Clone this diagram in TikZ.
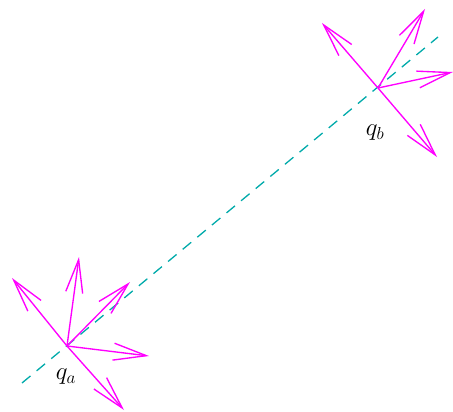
\documentclass[tikz,border=0pt]{standalone}
\usetikzlibrary{arrows.meta}
\definecolor{vec}{RGB}{255,0,255}
\definecolor{dash}{RGB}{0,170,170}
\begin{document}
\begin{tikzpicture}[x=1pt,y=-1pt,
  vecarrow/.style={draw=vec,line width=1.35pt,-{Straight Barb[length=33pt,width=17pt,line width=1.35pt]}},
  dashline/.style={draw=dash,line width=1.3pt,dash pattern=on 11pt off 8pt},
  lbl/.style={font=\fontsize{24}{28}\selectfont,inner sep=0pt}]
\useasboundingbox (0,0) rectangle (453,412);
\coordinate (qa) at (67,346);
\coordinate (qb) at (378,88);
\coordinate (d1) at (22,383);
\coordinate (d2) at (438,37);
\draw[dashline] (d1) -- (d2);
% arrows at qa
\coordinate (a1) at (12,278);
\coordinate (a2) at (79,257);
\coordinate (a3) at (130,282);
\coordinate (a4) at (149,356);
\coordinate (a5) at (124,410);
\foreach \t in {a1,a2,a3,a4,a5} \draw[vecarrow] (qa) -- (\t);
% arrows at qb
\coordinate (b1) at (322,23);
\coordinate (b2) at (425,9);
\coordinate (b3) at (453,72);
\coordinate (b4) at (437,157);
\foreach \t in {b1,b2,b3,b4} \draw[vecarrow] (qb) -- (\t);
\node[lbl] (la) at (66,377) {$q_a$};
\node[lbl] (lb) at (375,133) {$q_b$};
\end{tikzpicture}
\end{document}
